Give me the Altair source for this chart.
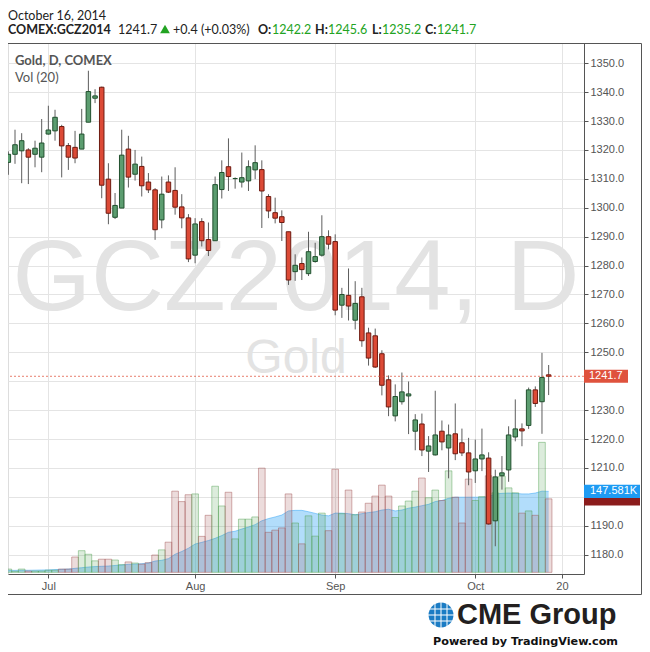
import altair as alt
import pandas as pd

# ---------------- data ----------------
opens = [1315.7, 1318.5, 1319.7, 1320.0, 1318.5, 1317.5, 1325.5, 1326.6, 1328.1, 1321.5,
         1320.9, 1320.3, 1329.6, 1337.9, 1341.7, 1309.9, 1296.7, 1299.9, 1320.3, 1311.6,
         1314.3, 1308.9, 1306.2, 1295.8, 1308.9, 1306.0, 1300.3, 1296.5, 1283.6, 1295.2,
         1289.0, 1288.6, 1306.3, 1314.2, 1310.1, 1308.9, 1309.3, 1313.1, 1313.2, 1303.9,
         1298.3, 1296.9, 1291.7, 1277.9, 1280.7, 1277.2, 1281.4, 1283.6, 1290.0, 1288.3,
         1266.3, 1269.7, 1261.1, 1269.2, 1256.7, 1255.7, 1249.5, 1240.5, 1228.0, 1232.9,
         1234.9, 1222.7, 1225.2, 1215.8, 1214.5, 1222.7, 1216.9, 1221.8, 1218.7, 1215.2,
         1209.0, 1213.1, 1213.4, 1191.7, 1207.3, 1209.3, 1220.7, 1223.5, 1224.7, 1237.0,
         1232.9, 1242.2]
highs = [1319.5, 1327.0, 1325.8, 1320.6, 1323.2, 1330.7, 1335.3, 1333.9, 1328.7, 1322.4,
         1326.6, 1334.2, 1347.4, 1341.0, 1341.9, 1315.4, 1305.1, 1327.0, 1324.9, 1320.0,
         1317.7, 1312.0, 1306.8, 1310.8, 1311.2, 1314.0, 1304.7, 1297.8, 1296.4, 1296.4,
         1294.9, 1310.8, 1316.4, 1324.0, 1310.5, 1319.1, 1316.4, 1321.6, 1316.4, 1304.7,
         1303.5, 1299.1, 1291.7, 1283.9, 1282.8, 1291.7, 1287.9, 1297.4, 1292.2, 1290.8,
         1272.3, 1279.0, 1274.6, 1272.3, 1258.5, 1258.2, 1250.7, 1242.0, 1238.9, 1243.0,
         1239.9, 1228.6, 1228.8, 1221.0, 1236.7, 1226.4, 1225.0, 1232.3, 1223.6, 1220.4,
         1219.8, 1223.6, 1215.4, 1209.4, 1214.1, 1224.4, 1233.7, 1225.4, 1237.8, 1238.2,
         1249.8, 1245.6]
lows = [1311.4, 1315.2, 1308.5, 1308.2, 1314.0, 1312.3, 1325.3, 1323.2, 1310.5, 1313.1,
        1315.4, 1320.3, 1329.6, 1336.2, 1303.3, 1294.3, 1296.1, 1299.9, 1307.0, 1309.4,
        1303.9, 1305.1, 1288.9, 1292.9, 1305.1, 1297.6, 1292.9, 1281.2, 1280.8, 1286.6,
        1283.3, 1288.6, 1303.2, 1305.8, 1306.6, 1307.0, 1305.8, 1309.9, 1293.0, 1296.4,
        1294.6, 1288.5, 1273.3, 1274.7, 1275.0, 1276.4, 1281.0, 1283.1, 1285.6, 1262.8,
        1261.9, 1261.0, 1257.9, 1251.9, 1245.4, 1244.6, 1235.1, 1227.9, 1226.1, 1231.9,
        1221.7, 1216.1, 1214.1, 1208.6, 1214.3, 1216.1, 1206.4, 1212.7, 1214.1, 1204.0,
        1204.8, 1208.9, 1190.4, 1182.9, 1202.5, 1205.2, 1219.2, 1217.5, 1223.5, 1231.1,
        1221.8, 1235.2]
closes = [1318.5, 1321.8, 1323.2, 1317.5, 1320.6, 1322.4, 1326.9, 1331.3, 1321.4, 1317.5,
          1317.2, 1325.5, 1340.2, 1338.7, 1307.8, 1298.1, 1300.8, 1318.2, 1310.6, 1315.1,
          1307.6, 1306.2, 1292.4, 1304.7, 1305.4, 1300.2, 1296.5, 1282.3, 1294.4, 1288.6,
          1285.2, 1308.0, 1312.2, 1310.8, 1310.1, 1310.4, 1314.2, 1315.6, 1305.8, 1298.9,
          1296.4, 1294.9, 1275.0, 1280.1, 1278.6, 1284.8, 1283.1, 1290.0, 1287.4, 1264.6,
          1270.0, 1266.0, 1266.9, 1254.0, 1248.0, 1244.9, 1238.6, 1231.1, 1234.7, 1236.3,
          1235.6, 1226.6, 1216.2, 1217.6, 1221.4, 1219.0, 1221.4, 1214.9, 1215.2, 1208.6,
          1213.1, 1214.5, 1190.6, 1206.9, 1208.3, 1221.4, 1223.5, 1222.8, 1237.0, 1232.3,
          1241.3, 1241.7]
# volume in thousands
volumes_k = [6, 2, 6, 2.4, 2.4, 2.4, 4, 4, 6, 6,
             28, 39.5, 33, 21, 24, 24, 22.5, 14, 19, 17,
             15, 17.6, 31.6, 41, 55, 148, 129, 141.5, 143, 65.6,
             104, 157, 121, 146, 61, 97, 97, 101, 190, 73,
             77, 81, 143, 90, 52, 103, 66, 108, 76, 188,
             107, 150, 105, 110, 126, 139, 159, 139, 100, 121,
             130, 148, 172, 136, 150, 131, 185, 137, 90, 170,
             131, 138, 176, 145, 175, 154, 145, 108, 112, 104,
             237, 134]
# Vol (20) moving average, thousands
vol_ma_k = [3.6, 3.6, 3.8, 3.8, 4, 4.3, 4.5, 5, 5.5, 6,
            7.3, 8.5, 9.7, 10.5, 11, 11.5, 12.5, 13.5, 14.6, 15,
            15.8, 17, 20.6, 22, 25, 33, 38, 44, 51.6, 54.7,
            58, 62, 67, 73, 75, 79, 82.6, 87, 94, 98,
            101, 104.5, 112, 113, 113, 110.5, 107.5, 104.5, 103, 108,
            108, 107, 105, 107, 109, 110.5, 113.6, 115, 112, 113.6,
            117, 119, 121.5, 124, 129, 131, 135, 137, 137, 137,
            137, 137, 138, 143, 144, 144.6, 144, 143, 143, 144.6,
            148, 147.581]
tick_idx = [6, 28, 49, 70, 83]
tick_labels = ["Jul", "Aug", "Sep", "Oct", "20"]
price_ticks = list(range(1180, 1351, 10))
hidden_price_labels = [1200, 1240]   # covered by the value badges in the reference
date_label = "October 16, 2014"
symbol = "COMEX:GCZ2014"

df = pd.DataFrame({
    "i": list(range(len(opens))), "open": opens, "high": highs, "low": lows,
    "close": closes, "volume": volumes_k, "vol_ma": vol_ma_k,
})
last = df.tail(1)

# ---------------- scales / axes ----------------
W, H = 576, 531
x_scale = alt.Scale(domain=[-0.05, 86.3], nice=False, zero=False, padding=0)
p_scale = alt.Scale(domain=[1173.3, 1357.0], nice=False, zero=False, padding=0)
v_scale = alt.Scale(domain=[-3, 965], nice=False, zero=False, padding=0)

label_expr = " : ".join(f"datum.value == {v} ? '{t}'" for v, t in zip(tick_idx, tick_labels)) + " : ''"
hide_expr = " || ".join(f"datum.value == {v}" for v in hidden_price_labels)
y_label_expr = f"({hide_expr}) ? '' : format(datum.value, '.1f')"
x_axis = alt.Axis(values=tick_idx, labelExpr=label_expr, grid=True, gridColor="#e4e4e4",
                  tickColor="#555", tickSize=4, domainColor="#555", labelColor="#555",
                  labelFont="Liberation Sans", labelFontSize=11, labelPadding=2, title=None,
                  labelOverlap=False, labelFlush=False)
y_axis = alt.Axis(orient="right", values=price_ticks, labelExpr=y_label_expr, grid=True,
                  gridColor="#e4e4e4", tickColor="#555", tickSize=4, domainColor="#555",
                  labelColor="#555", labelFont="Liberation Sans", labelFontSize=11,
                  labelPadding=2, title=None, labelOverlap=False)

X = alt.X("i:Q", scale=x_scale, axis=x_axis)
up = "datum.close >= datum.open"
GREEN_BODY, RED_BODY = "#5c9d70", "#dc4a36"
GREEN_EDGE, RED_EDGE = "#21502e", "#6e1a10"


def txt(text, x, y, size=13, weight="normal", color="#222", font="Lato", align="left",
        baseline="alphabetic"):
    return alt.Chart(pd.DataFrame({"t": [text]})).mark_text(
        align=align, baseline=baseline, font=font, fontSize=size, fontWeight=weight, color=color
    ).encode(text="t:N", x=alt.value(x), y=alt.value(y))


# ---------------- watermark ----------------
wm = alt.layer(
    txt("GCZ2014, D", 288, 267, size=101, font="Liberation Sans", color="#e3e3e3", align="center"),
    txt("Gold", 288, 330, size=48, font="Liberation Sans", color="#e3e3e3", align="center"),
)

# ---------------- volume ----------------
base = alt.Chart(df)
vol_area = base.mark_area(color="#3fa9f5", opacity=0.4).encode(
    x=X, y=alt.Y("vol_ma:Q", scale=v_scale, axis=None))
vol_line = base.mark_line(color="#3fa9f5", strokeWidth=1, opacity=0.55).encode(
    x=X, y=alt.Y("vol_ma:Q", scale=v_scale, axis=None))
vol_bars = base.transform_calculate(x0="datum.i - 0.5", x1="datum.i + 0.5").mark_rect(
    strokeWidth=1, fillOpacity=0.2, strokeOpacity=0.45
).encode(
    x=alt.X("x0:Q", scale=x_scale, axis=x_axis), x2="x1:Q",
    y=alt.Y("volume:Q", scale=v_scale, axis=None), y2=alt.datum(0),
    color=alt.condition(up, alt.value("#50a050"), alt.value("#a05050")),
    stroke=alt.condition(up, alt.value("#50a050"), alt.value("#a05050")),
)
lastv = alt.Chart(last)
dark_box = lastv.transform_calculate(h="datum.volume + 12", l="datum.volume - 12").mark_rect(
    color="#8b1c1c").encode(x=alt.value(576), x2=alt.value(632),
                            y=alt.Y("h:Q", scale=v_scale, axis=None), y2="l:Q")
blue_box = lastv.transform_calculate(h="datum.vol_ma + 12", l="datum.vol_ma - 12").mark_rect(
    color="#1e9bf3").encode(x=alt.value(576), x2=alt.value(632),
                            y=alt.Y("h:Q", scale=v_scale, axis=None), y2="l:Q")
blue_text = lastv.transform_calculate(lab="format(datum.vol_ma, '.3f') + 'K'").mark_text(
    align="left", baseline="middle", font="Liberation Sans", fontSize=11, color="white"
).encode(x=alt.value(582), y=alt.Y("vol_ma:Q", scale=v_scale, axis=None), text="lab:N")
vol_group = alt.layer(vol_area, vol_line, vol_bars, dark_box, blue_box, blue_text)

# ---------------- price ----------------
wicks = base.mark_rule(color="#5d5d5d", strokeWidth=1).encode(
    x=X, y=alt.Y("low:Q", scale=p_scale, axis=y_axis), y2="high:Q")
bodies = base.mark_bar(size=4.5, strokeWidth=1).encode(
    x=X, y=alt.Y("open:Q", scale=p_scale, axis=y_axis), y2="close:Q",
    color=alt.condition(up, alt.value(GREEN_BODY), alt.value(RED_BODY)),
    stroke=alt.condition(up, alt.value(GREEN_EDGE), alt.value(RED_EDGE)),
)
lastp = alt.Chart(last)
last_line = lastp.mark_rule(color="#e0533c", strokeDash=[2, 2], opacity=0.75).encode(
    y=alt.Y("close:Q", scale=p_scale, axis=y_axis))
price_box = lastp.transform_calculate(h="datum.close + 2.25", l="datum.close - 2.25").mark_rect(
    color="#df523d").encode(x=alt.value(576), x2=alt.value(620),
                            y=alt.Y("h:Q", scale=p_scale, axis=y_axis), y2="l:Q")
price_text = lastp.mark_text(align="left", baseline="middle", font="Liberation Sans",
                             fontSize=11, color="white").encode(
    x=alt.value(581), y=alt.Y("close:Q", scale=p_scale, axis=y_axis),
    text=alt.Text("close:Q", format=".1f"))
price_group = alt.layer(wicks, bodies, last_line, price_box, price_text)

# ---------------- header, legend, frame, logo ----------------
GREEN_TXT = "#22a322"
lc, pc = closes[-1], closes[-2]
chg = lc - pc
chg_txt = f"{chg:+.1f} ({chg / pc * 100:+.2f}%)"
frame = alt.Chart(pd.DataFrame({"a": [0]})).mark_rect(
    fillOpacity=0, stroke="#555", strokeWidth=1).encode(
    x=alt.value(-0.5), x2=alt.value(633.5), y=alt.value(0.5), y2=alt.value(551.5))
tri = alt.Chart(pd.DataFrame({"a": [0]})).mark_point(
    shape="triangle-up", filled=True, color=GREEN_TXT, size=95, opacity=1).encode(
    x=alt.value(157), y=alt.value(-14))
globe = alt.Chart(pd.DataFrame({"a": [0]})).mark_point(
    shape="circle", filled=True, color="#1b7cc4", size=620, opacity=1).encode(
    x=alt.value(433), y=alt.value(572))
g_lines = []
for d in (-6, 0, 6):
    g_lines.append(alt.Chart(pd.DataFrame({"a": [0]})).mark_rule(
        color="white", strokeWidth=1.2, opacity=0.85).encode(
        x=alt.value(433 + d), y=alt.value(558), y2=alt.value(586)))
    g_lines.append(alt.Chart(pd.DataFrame({"a": [0]})).mark_rule(
        color="white", strokeWidth=1.2, opacity=0.85).encode(
        x=alt.value(418), x2=alt.value(448), y=alt.value(572 + d)))

HS = 12.5
deco = alt.layer(
    frame,
    txt(date_label, 0, -23, size=HS, color="#222"),
    txt(symbol, 0, -9, size=HS, weight="bold", color="#222"),
    txt(f"{lc:.1f}", 110, -9, size=HS, color="#222"),
    tri,
    txt(chg_txt, 165, -9, size=HS, color="#222"),
    txt("O:", 250, -9, size=HS, weight="bold", color="#222"),
    txt(f"{opens[-1]:.1f}", 264, -9, size=HS, color=GREEN_TXT),
    txt("H:", 307, -9, size=HS, weight="bold", color="#222"),
    txt(f"{highs[-1]:.1f}", 320, -9, size=HS, color=GREEN_TXT),
    txt("L:", 364, -9, size=HS, weight="bold", color="#222"),
    txt(f"{lows[-1]:.1f}", 374, -9, size=HS, color=GREEN_TXT),
    txt("C:", 417, -9, size=HS, weight="bold", color="#222"),
    txt(f"{lc:.1f}", 429, -9, size=HS, color=GREEN_TXT),
    txt("Gold, D, COMEX", 7, 22, size=13, weight="bold", color="#555"),
    txt("Vol (20)", 7, 39, size=13, color="#555"),
    globe, *g_lines,
    txt("CME Group", 449, 581, size=29, weight="bold", font="Liberation Sans", color="#231f20"),
    txt("Powered by TradingView.com", 425, 602, size=11.2, weight="bold", font="DejaVu Sans",
        color="#111"),
)

chart = alt.layer(wm, vol_group, price_group, deco).resolve_scale(
    y="independent"
).properties(
    width=W, height=H,
    autosize=alt.AutoSizeParams(type="none"),
    padding={"left": 0, "top": 35, "right": 58, "bottom": 76},
).configure_view(stroke="#555", strokeWidth=1).configure(background="white")

chart.save("out.html", embed_options={"renderer": "svg", "actions": False})
